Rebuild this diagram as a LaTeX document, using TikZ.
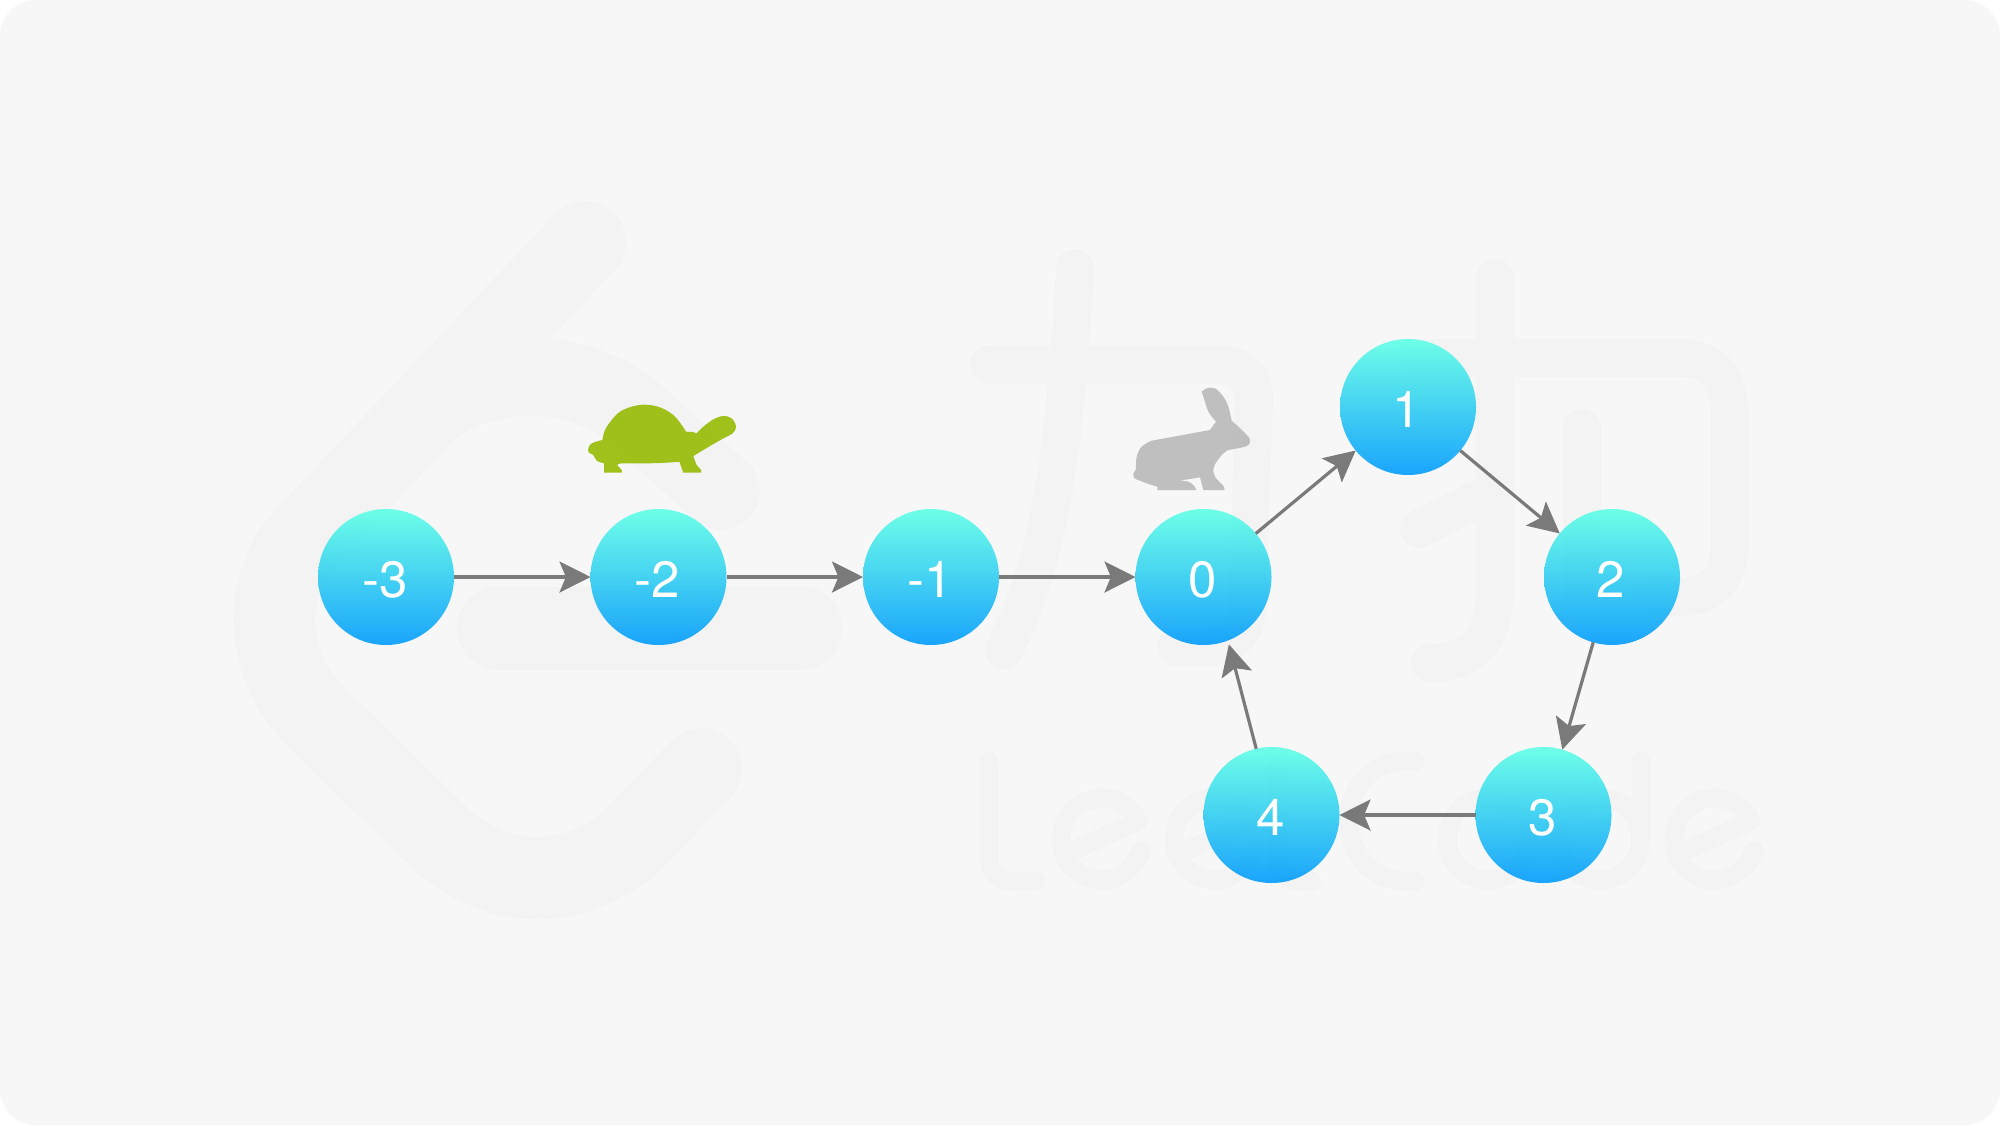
\documentclass[tikz,border=0pt]{standalone}
\usepackage{fontspec}
\setmainfont{TeX Gyre Heros}
\usetikzlibrary{arrows.meta}
\definecolor{bgc}{HTML}{F7F7F7}
\definecolor{linec}{HTML}{7A7A7A}
\definecolor{turtlec}{HTML}{A0C01C}
\definecolor{rabbitc}{HTML}{BFBFBF}
\definecolor{topc}{HTML}{6EFFE8}
\definecolor{botc}{HTML}{1AA4FC}
\tikzset{
  listnode/.style={circle,minimum size=68pt,inner sep=0pt,outer sep=0pt,
    top color=topc,bottom color=botc,draw=none,text=white,
    font=\fontsize{25.5pt}{25.5pt}\selectfont,text height=20.3pt,text depth=0pt},
  link/.style={draw=linec,line width=1.6pt,-{Stealth[length=15.5pt,width=15.5pt,inset=3.2pt]}},
  wmbase/.style={draw=black,line cap=round,line join=round},
  wmlogo/.style={wmbase,line width=41pt},
  wmlogotwo/.style={wmbase,line width=39pt},
  wmbar/.style={wmbase,line width=41.5pt},
  wmhan/.style={wmbase,line width=19pt},
  wmlat/.style={wmbase,line width=9.5pt},
  organic/.style={smooth,tension=0.6},
}
\newcommand{\wmE}[1]{%
  \begin{scope}[shift={(#1,839)}]
    \draw[wmlat] (-30,12) -- (36,-18) .. controls (30,-33) and (15,-41) .. (0,-41)
      .. controls (-23,-41) and (-41,-23) .. (-41,0)
      .. controls (-41,23) and (-23,41) .. (0,41)
      .. controls (18,41) and (33,28) .. (39,12);
  \end{scope}}
\newcommand{\wmshapes}{%
 \draw[wmlogo] (585,242) -- (305,538) .. controls (262,585) and (262,665) .. (320,721)
   -- (446,844) .. controls (505,890) and (570,890) .. (631,842) -- (701,769);
 \draw[wmlogotwo] (431,408) .. controls (490,368) and (560,365) .. (625,405) -- (721,491);
 \draw[wmbar] (498,628) -- (801,628);
 \draw[wmhan] (989,365) -- (1222,365) .. controls (1245,365) and (1254,380) .. (1254,405)
   -- (1247,610) .. controls (1245,635) and (1230,647) .. (1205,647) -- (1176,647);
 \draw[wmhan] (1075,268) .. controls (1065,450) and (1050,560) .. (1004,650);
 \draw[wmhan] (1495,278) -- (1495,590) .. controls (1495,640) and (1470,663) .. (1430,663);
 \draw[wmhan] (1419,529) -- (1495,490);
 \draw[wmhan] (1420,358) -- (1680,358) .. controls (1715,358) and (1730,380) .. (1730,420)
   -- (1730,540) .. controls (1730,580) and (1710,597) .. (1680,597) -- (1650,597);
 \draw[wmhan] (1582,428) -- (1582,590);
 \draw[wmlat] (989,761) -- (989,858) .. controls (989,872) and (998,881) .. (1012,881) -- (1036,881);
 \wmE{1102}
 \wmE{1215}
 \draw[wmlat] (1276,761) -- (1276,855) .. controls (1276,872) and (1286,881) .. (1300,881) -- (1312,881);
 \draw[wmlat] (1415,761) -- (1405,761) .. controls (1372,761) and (1349,788) .. (1349,821)
   .. controls (1349,854) and (1372,881) .. (1405,881) -- (1415,881);
 \draw[wmlat] (1488,839) circle[radius=41];
 \draw[wmlat] (1600,839) circle[radius=41];
 \draw[wmlat] (1641,761) -- (1641,839);
 \wmE{1715}}
\begin{document}
\begin{tikzpicture}[x=0.5pt,y=-0.5pt]
\useasboundingbox (0,0) rectangle (2000,1125);
\fill[white] (0,0) rectangle (2000,1125);
\fill[bgc,rounded corners=18pt] (0,0) rectangle (2000,1125);

% watermark beneath the diagram
\begin{scope}[transparency group,opacity=0.011]
 \wmshapes
\end{scope}

% list nodes
\node[listnode] (m3) at (386,577) {-3\kern1pt};
\node[listnode] (m2) at (658.5,577) {-2\kern1pt};
\node[listnode] (m1) at (931,577) {-1\kern1pt};
\node[listnode] (z) at (1203.5,577) {0\kern1pt};
\node[listnode] (a) at (1408,407) {1\kern1pt};
\node[listnode] (b) at (1612,577) {2\kern1pt};
\node[listnode] (c) at (1543.5,815) {3\kern1pt};
\node[listnode] (d) at (1271.5,815) {4\kern1pt};

\draw[link] (m3) -- (m2);
\draw[link] (m2) -- (m1);
\draw[link] (m1) -- (z);
\draw[link] (z) -- (a);
\draw[link] (a) -- (b);
\draw[link] (b) -- (c);
\draw[link] (c) -- (d);
\draw[link,shorten >=2pt] (d.103) -- (z.-69);

% turtle
\begin{scope}[shift={(540,370)},x=0.16667pt,y=-0.16667pt]
\fill[turtlec]
 plot[organic] coordinates {(192,280) (170,272) (160,255) (147,248) (145,235) (155,220) (187,210)}
 -- plot[organic] coordinates {(187,210) (195,180) (215,150) (240,125) (275,110) (315,104) (360,112) (400,135) (425,165) (438,185)}
 -- (458,186)
 -- plot[organic] coordinates {(470,190) (490,170) (520,148) (550,138) (575,145) (588,170) (578,190) (550,205) (510,228) (460,258)}
 -- plot[organic] coordinates {(460,258) (470,285) (483,300) (483,308)}
 -- (430,308) -- (418,275)
 -- plot[organic] coordinates {(418,275) (380,278) (320,280) (245,280)}
 -- plot[organic] coordinates {(245,280) (232,285) (245,300) (245,308)}
 -- (192,308) -- cycle;
\end{scope}

% rabbit
\begin{scope}[shift={(1100,370)},x=0.16667pt,y=-0.16667pt]
\fill[rabbitc]
 plot[organic] coordinates {(305,65) (320,55) (345,55) (370,80) (385,110) (395,152)}
 -- plot[organic] coordinates {(395,152) (415,170) (440,195) (450,210) (440,228) (385,240)}
 -- plot[organic] coordinates {(385,240) (365,255) (342,290) (345,320) (372,350) (372,360)}
 -- (310,360) -- (300,322) -- (238,332)
 -- plot[organic] coordinates {(238,332) (265,335) (283,348) (288,360)}
 -- (172,360) -- (172,350)
 -- plot[organic] coordinates {(172,350) (140,340) (120,332) (104,325) (100,312) (108,298)}
 -- plot[organic] coordinates {(108,298) (110,260) (125,230) (155,212)}
 -- (330,180) -- (348,155)
 -- plot[organic] coordinates {(348,155) (325,125) (315,95) (305,65)}
 -- cycle;
\end{scope}

% watermark, very faintly over everything
\begin{scope}[transparency group,opacity=0.005]
 \wmshapes
\end{scope}
\end{tikzpicture}
\end{document}
